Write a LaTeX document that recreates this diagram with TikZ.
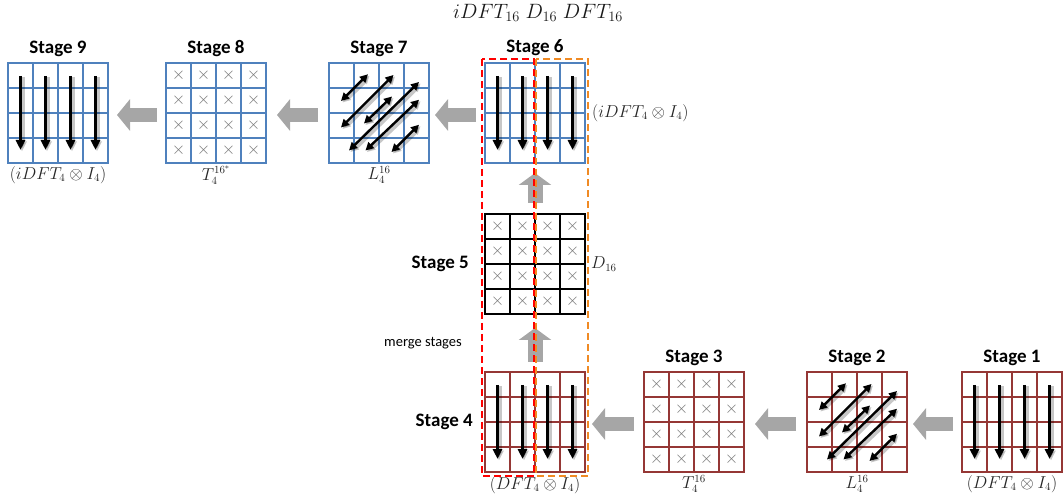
\documentclass[tikz,border=0pt]{standalone}
\usepackage{amsmath,amssymb}
\usepackage{fontspec}
\setmainfont{Carlito}
\usepackage{xcolor}
\usepackage{tikz}
\usetikzlibrary{arrows.meta,positioning}
\definecolor{gridblue}{HTML}{4F81BD}
\definecolor{gridred}{HTML}{953735}
\definecolor{flowgray}{HTML}{A6A6A6}
\definecolor{crossgray}{HTML}{777777}
\definecolor{mergered}{HTML}{FF0000}
\definecolor{mergeorange}{HTML}{F08A24}
% inner lines of a 4x4 stage grid: node name, colour
\newcommand{\cells}[2]{%
  \foreach \k in {1,2,3}{
    \draw[#2,line width=2pt] ([xshift=\k*25pt]#1.north west) -- ([xshift=\k*25pt]#1.south west);
    \draw[#2,line width=2pt] ([yshift=-\k*25pt]#1.north west) -- ([yshift=-\k*25pt]#1.north east);}}
% twiddle crosses in every cell
\newcommand{\crosses}[1]{%
  \foreach \i in {0,...,3}
    \foreach \j in {0,...,3}
      \node[cross] (#1-\i-\j) at ([shift={(12.5+25*\i,12.5+25*\j)}]#1.north west) {$\times$};}
% one DFT arrow per column
\newcommand{\columns}[1]{%
  \foreach \i in {0,...,3}
    \draw[colar] ([shift={(12.5+25*\i,13)}]#1.north west) -- ++(0,74);}
% stride permutation swaps
\newcommand{\swaps}[1]{%
  \foreach \ax/\ay/\bx/\by in {0.48/1.52/1.56/0.45, 0.48/2.58/2.58/0.48, 1.4/2.42/2.52/1.34,
                               0.8/3.5/3.6/0.76, 1.46/3.5/3.6/1.47, 2.5/3.56/3.6/2.47}
    \draw[swapar] ([shift={(25*\ax,25*\ay)}]#1.north west) -- ([shift={(25*\bx,25*\by)}]#1.north west);}

\begin{document}
\begin{tikzpicture}[
  x=1pt,y=-1pt,
  grid/.style={draw,line width=2pt,minimum size=100pt,inner sep=0pt,outer sep=0pt},
  cross/.style={text=crossgray,font=\fontsize{16}{16}\selectfont,inner sep=0pt},
  stagelbl/.style={font=\fontsize{19}{19}\selectfont\bfseries,inner sep=0pt},
  mathlbl/.style={font=\fontsize{16}{16}\selectfont,text=black!85,inner sep=0pt},
  shadowed/.style={preaction={draw=black,opacity=0.22,line width=5.5pt,
                   transform canvas={shift={(1.5pt,-1.5pt)}}}},
  colar/.style={-{Triangle[length=10pt,width=9pt]},line width=3.4pt,shadowed},
  swapar/.style={{Triangle[length=8pt,width=8pt]}-{Triangle[length=8pt,width=8pt]},
                 line width=2.4pt,shadowed},
  flow/.style={draw=flowgray,line width=14pt,-{Triangle[length=13pt,width=31pt]}},
  upflow/.style={draw=flowgray,line width=15pt,-{Triangle[length=12pt,width=32pt]}},
  fence/.style={line width=2.2pt,dash pattern=on 7pt off 4pt}
]
\useasboundingbox (0,0) rectangle (1063,502);

\node[mathlbl,text=black!90,font=\fontsize{20}{20}\selectfont] (title) at (538,13)
  {$iDFT_{16}\;D_{16}\;DFT_{16}$};

% top row: inverse transform
\node[grid,draw=gridblue] (s9) at (58,113) {};
\node[grid,draw=gridblue] (s8) at (216,113) {};
\node[grid,draw=gridblue] (s7) at (379,113) {};
\node[grid,draw=gridblue] (s6) at (535,113) {};
% middle: pointwise product
\node[grid,draw=black] (s5) at (535,264) {};
% bottom row: forward transform
\node[grid,draw=gridred] (s4) at (535,422) {};
\node[grid,draw=gridred] (s3) at (694,422) {};
\node[grid,draw=gridred] (s2) at (857,422) {};
\node[grid,draw=gridred] (s1) at (1012,422) {};

\cells{s9}{gridblue} \cells{s8}{gridblue} \cells{s7}{gridblue} \cells{s6}{gridblue}
\cells{s5}{black}
\cells{s4}{gridred} \cells{s3}{gridred} \cells{s2}{gridred} \cells{s1}{gridred}

\columns{s9} \columns{s6} \columns{s4} \columns{s1}
\crosses{s8} \crosses{s5} \crosses{s3}
\swaps{s7} \swaps{s2}

\node[stagelbl,above=6pt of s9] (l9) {Stage 9};
\node[stagelbl,above=6pt of s8] (l8) {Stage 8};
\node[stagelbl,above=6pt of s7] (l7) {Stage 7};
\node[stagelbl,above=7pt of s6] (l6) {Stage 6};
\node[stagelbl,left=16pt of s5] (l5) {Stage 5};
\node[stagelbl,left=12pt of s4] (l4) {Stage 4};
\node[stagelbl,above=6pt of s3] (l3) {Stage 3};
\node[stagelbl,above=6pt of s2] (l2) {Stage 2};
\node[stagelbl,above=6pt of s1] (l1) {Stage 1};

\node[mathlbl,below=3pt of s9] (m9) {$(iDFT_4\otimes I_4)$};
\node[mathlbl,below=3pt of s8] (m8) {$T_4^{16^*}$};
\node[mathlbl,below=3pt of s7] (m7) {$L_4^{16}$};
\node[mathlbl,right=7pt of s6] (m6) {$(iDFT_4\otimes I_4)$};
\node[mathlbl,right=6pt of s5] (m5) {$D_{16}$};
\node[mathlbl,below=4pt of s4] (m4) {$(DFT_4\otimes I_4)$};
\node[mathlbl,below=3pt of s3] (m3) {$T_4^{16}$};
\node[mathlbl,below=3pt of s2] (m2) {$L_4^{16}$};
\node[mathlbl,below=3pt of s1] (m1) {$(DFT_4\otimes I_4)$};

\node[font=\fontsize{14.5}{14.5}\selectfont,inner sep=0pt] (merge) at (423,343) {merge stages};

\draw[flow] ([xshift=-9pt,yshift=-2pt]s1.west) -- ([xshift=6pt,yshift=-2pt]s2.east);
\draw[flow] ([xshift=-11pt,yshift=-2pt]s2.west) -- ([xshift=11pt,yshift=-2pt]s3.east);
\draw[flow] ([xshift=-10pt,yshift=-2pt]s3.west) -- ([xshift=7pt,yshift=-2pt]s4.east);
\draw[upflow] ([yshift=10pt]s4.north) -- ([yshift=-14pt]s5.south);
\draw[upflow] ([yshift=11pt]s5.north) -- ([yshift=-10pt]s6.south);
\draw[flow] ([xshift=-9pt,yshift=-2pt]s6.west) -- ([xshift=6pt,yshift=-2pt]s7.east);
\draw[flow] ([xshift=-11pt,yshift=-2pt]s7.west) -- ([xshift=11pt,yshift=-2pt]s8.east);
\draw[flow] ([xshift=-9pt,yshift=-2pt]s8.west) -- ([xshift=9pt,yshift=-2pt]s9.east);

% merged stages
\draw[fence,mergered] ([xshift=-3pt,yshift=4pt]s6.north west) rectangle ([xshift=-1pt,yshift=-4pt]s4.south);
\draw[fence,mergeorange] ([xshift=1pt,yshift=4pt]s6.north) rectangle ([xshift=3pt,yshift=-4pt]s4.south east);
\end{tikzpicture}
\end{document}
